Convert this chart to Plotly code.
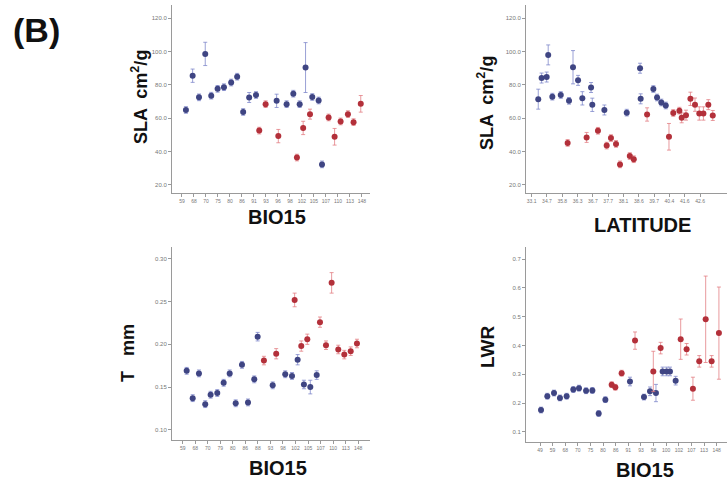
import plotly.graph_objects as go

# ---------------- data ----------------
# Panel A: SLA vs BIO15 (x in tick-index units)
sla_bio_x = [0.33,0.89,1.42,1.94,2.44,2.97,3.5,4.1,4.6,5.1,5.6,6.17,6.44,6.97,7.89,8.03,8.72,9.28,9.58,9.81,10.1,10.3,10.67,10.86,11.39,11.67,12.22,12.72,13.22,13.83,14.3,14.9]
sla_bio_y = [64.9,85.5,72.5,98.6,73.5,77.6,78.6,81.4,84.9,63.7,72.4,73.9,52.5,68.4,70.4,49.2,68.4,74.7,36.3,68.4,54.1,90.4,62.4,72.7,70.6,32.2,60.4,48.8,58.0,62.4,57.6,68.6]
sla_bio_e = [2,4,2,7,2,2,2,2,2,2,3,2,2,2,4,4,2,2,2,2,4,15,3,2,2,2,2,5,2,2,2,5]
sla_bio_g = ['b','b','b','b','b','b','b','b','b','b','b','b','r','r','b','r','b','b','r','b','r','b','r','b','b','b','r','r','r','r','r','r']
bio_ticks_a = ["59","68","70","75","80","86","91","93","96","98","102","105","107","110","113","148"]

# Panel B: SLA vs LATITUDE
sla_lat_x = [0.43,0.65,0.98,1.08,1.35,1.90,2.35,2.44,2.70,3.03,3.31,3.59,3.88,3.96,4.33,4.75,4.90,5.18,5.51,5.77,6.21,6.41,6.67,7.08,7.12,7.54,7.95,8.19,8.47,8.76,8.97,9.25,9.65,9.80,10.08,10.37,10.67,10.95,11.22,11.54,11.83]
sla_lat_y = [71.4,84.1,84.7,98.0,72.9,73.9,45.1,70.4,90.6,82.7,71.9,48.4,78.4,68.0,52.4,64.9,43.5,48.0,44.5,32.2,63.3,37.2,35.3,90.0,71.6,62.2,77.5,72.4,69.4,67.6,48.8,63.1,64.5,60.2,61.8,71.6,68.1,62.8,62.8,68.1,61.6]
sla_lat_e = [6,3,3,6,2,2,2,2,10,3,4,3,3,4,2,3,2,2,2,2,2,2,2,3,3,4,2,2,2,2,8,2,2,3,3,4,4,4,4,3,3]
sla_lat_g = ['b','b','b','b','b','b','r','b','b','b','b','r','b','b','r','b','r','r','r','r','b','r','r','b','b','r','b','b','b','b','r','r','r','r','r','r','r','r','r','r','r']
lat_ticks = ["33.1","34.7","35.8","36.3","36.7","37.7","38.1","38.6","39.7","40.4","41.6","42.6"]

# Panel C: T mm vs BIO15
t_x = [0.32,0.80,1.30,1.80,2.23,2.76,3.27,3.75,4.23,4.73,5.21,5.71,5.98,6.48,7.18,7.46,8.18,8.72,8.93,9.17,9.46,9.67,9.94,10.18,10.69,10.95,11.43,11.88,12.41,12.89,13.40,13.90]
t_y = [0.169,0.137,0.166,0.130,0.141,0.143,0.155,0.166,0.131,0.176,0.132,0.159,0.209,0.181,0.152,0.189,0.165,0.163,0.252,0.182,0.198,0.153,0.206,0.150,0.164,0.226,0.199,0.272,0.194,0.188,0.192,0.201]
t_e = [0.004,0.004,0.004,0.004,0.004,0.004,0.004,0.004,0.004,0.004,0.004,0.004,0.005,0.005,0.004,0.006,0.004,0.004,0.008,0.006,0.006,0.005,0.006,0.008,0.005,0.006,0.005,0.012,0.005,0.005,0.005,0.005]
t_g = ['b','b','b','b','b','b','b','b','b','b','b','b','b','r','b','r','b','b','r','b','r','b','r','b','b','r','r','r','r','r','r','r']
bio_ticks_c = ["59","68","70","79","80","86","88","93","98","102","105","107","110","113","148"]

# Panel D: LWR vs BIO15
lwr_x = [0.08,0.58,1.11,1.58,2.11,2.64,3.09,3.65,4.15,4.65,5.18,5.68,5.97,6.47,7.13,7.53,8.24,8.72,8.98,9.19,9.56,9.72,10.04,10.30,10.75,11.15,11.62,12.12,12.62,13.13,13.60,14.18]
lwr_y = [0.176,0.224,0.235,0.218,0.224,0.247,0.252,0.243,0.244,0.164,0.212,0.264,0.255,0.304,0.275,0.417,0.221,0.241,0.310,0.235,0.391,0.310,0.310,0.310,0.278,0.422,0.387,0.250,0.345,0.491,0.345,0.443]
lwr_e = [0.01,0.01,0.01,0.01,0.01,0.01,0.01,0.01,0.01,0.01,0.01,0.01,0.01,0.01,0.015,0.03,0.01,0.015,0.07,0.03,0.02,0.015,0.015,0.015,0.015,0.07,0.02,0.04,0.02,0.15,0.02,0.16]
lwr_g = ['b','b','b','b','b','b','b','b','b','b','b','r','r','r','b','r','b','b','r','b','r','b','b','b','b','r','r','r','r','r','r','r']
bio_ticks_d = ["49","59","68","70","75","80","86","91","93","98","100","102","107","113","148"]

# ---------------- style ----------------
MK = {'b': '#3f4583', 'r': '#b3303a'}
ERR = {'b': 'rgba(120,130,200,0.75)', 'r': 'rgba(225,120,125,0.75)'}

W, H = 727, 485
def px(x0, x1):
    return [x0 / W, x1 / W]
def py(y_top, y_bot):
    return [1 - y_bot / H, 1 - y_top / H]

fig = go.Figure()

def add_panel(idx, xs, ys, es, gs):
    xa = 'x' if idx == 1 else f'x{idx}'
    ya = 'y' if idx == 1 else f'y{idx}'
    for g in ['b', 'r']:
        sel = [i for i in range(len(xs)) if gs[i] == g]
        fig.add_trace(go.Scatter(
            x=[xs[i] for i in sel], y=[ys[i] for i in sel],
            mode='markers', xaxis=xa, yaxis=ya, showlegend=False,
            marker=dict(color=MK[g], size=6, line=dict(width=0)),
            error_y=dict(type='data', array=[es[i] for i in sel], color=ERR[g], thickness=1, width=2),
        ))

add_panel(1, sla_bio_x, sla_bio_y, sla_bio_e, sla_bio_g)
add_panel(2, sla_lat_x, sla_lat_y, sla_lat_e, sla_lat_g)
add_panel(3, t_x, t_y, t_e, t_g)
add_panel(4, lwr_x, lwr_y, lwr_e, lwr_g)

xtickfont = dict(family='Liberation Sans, Arial', size=5, color='#777777')
ytickfont = dict(family='Liberation Sans, Arial', size=6, color='#777777')
def xax(dom, anchor, rng, labels):
    return dict(domain=dom, anchor=anchor, range=rng, tickmode='array',
                tickvals=list(range(len(labels))), ticktext=labels, tickangle=0,
                showgrid=False, zeroline=False, showline=True, linecolor='#9a9a9a', linewidth=1,
                ticks='outside', ticklen=3, tickcolor='#9a9a9a', tickfont=xtickfont)
def yax(dom, anchor, rng, vals, fmt):
    return dict(domain=dom, anchor=anchor, range=rng, tickmode='array', tickvals=vals,
                tickformat=fmt, showgrid=False, zeroline=False, showline=True,
                linecolor='#9a9a9a', linewidth=1, ticks='outside', ticklen=3,
                tickcolor='#9a9a9a', tickfont=ytickfont)

fig.update_layout(
    width=W, height=H, margin=dict(l=0, r=0, t=0, b=0),
    paper_bgcolor='white', plot_bgcolor='white',
    xaxis=xax(px(172, 370), 'y', [-0.83, 15.67], bio_ticks_a),
    yaxis=yax(py(5, 193), 'x', [15, 128], [20, 40, 60, 80, 100, 120], '.1f'),
    xaxis2=xax(px(526, 727), 'y2', [-0.37, 12.76], lat_ticks),
    yaxis2=yax(py(5, 193), 'x2', [15, 128], [20, 40, 60, 80, 100, 120], '.1f'),
    xaxis3=xax(px(172, 370), 'y3', [-0.85, 14.94], bio_ticks_c),
    yaxis3=yax(py(247, 440), 'x3', [0.088, 0.314], [0.10, 0.15, 0.20, 0.25, 0.30], '.2f'),
    xaxis4=xax(px(526, 727), 'y4', [-1.11, 14.82], bio_ticks_d),
    yaxis4=yax(py(247, 442), 'x4', [0.065, 0.742], [0.1, 0.2, 0.3, 0.4, 0.5, 0.6, 0.7], '.1f'),
)

def ann(text, x, y, rot=0, size=18):
    fig.add_annotation(text=text, x=x / W, y=1 - y / H, xref='paper', yref='paper',
                       showarrow=False, textangle=rot, xanchor='center', yanchor='middle',
                       font=dict(family='Liberation Sans, Arial', size=size, color='#111111'))

ann('<b>(B)</b>', 36, 30, size=34)
ann('<b>BIO15</b>', 277, 217, size=20)
ann('<b>LATITUDE</b>', 642, 225, size=20)
ann('<b>SLA  cm<sup>2</sup>/g</b>', 140, 97, rot=-90)
ann('<b>SLA  cm<sup>2</sup>/g</b>', 485, 103, rot=-90)
ann('<b>T   mm</b>', 128, 353, rot=-90)
ann('<b>LWR</b>', 487, 347, rot=-90, size=19)
ann('<b>BIO15</b>', 278, 468, size=20)
ann('<b>BIO15</b>', 645, 470, size=20)

fig.write_html('out.html')
